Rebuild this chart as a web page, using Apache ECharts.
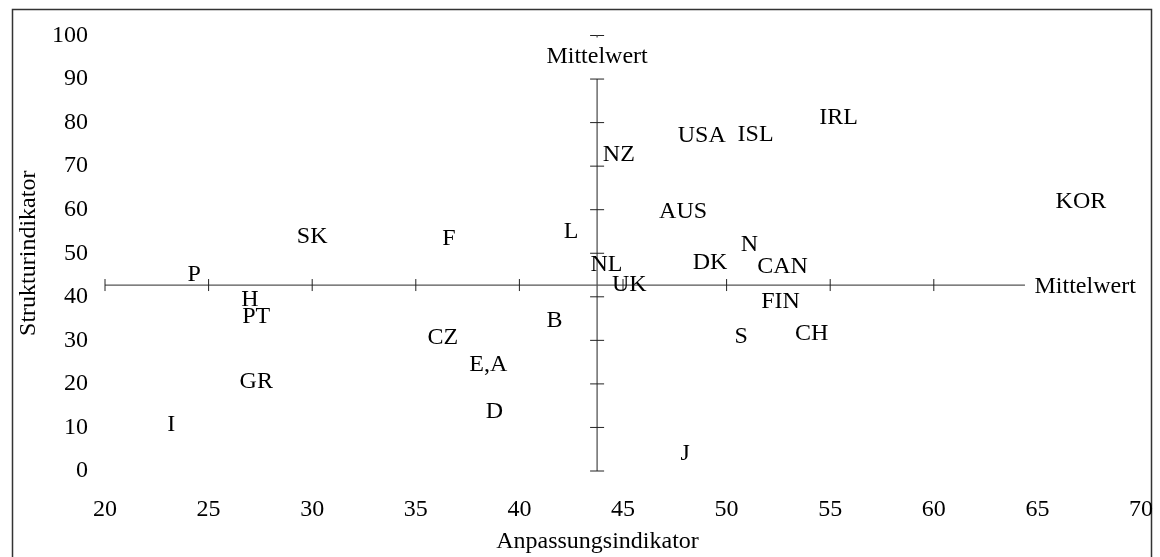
<!DOCTYPE html>
<html>
<head>
<meta charset="utf-8">
<script src="https://cdn.jsdelivr.net/npm/echarts@6/dist/echarts.min.js"></script>
<style>
html,body{margin:0;padding:0;background:#fff;}
#chart{width:1160px;height:557px;}
</style>
</head>
<body>
<div id="chart"></div>
<script>
// ---- data ----
const countries  = ['P','SK','F','L','NZ','USA','ISL','IRL','KOR','AUS','N','DK','CAN','NL','UK','FIN','CH','S','H','PT','GR','I','CZ','B','E,A','D','J'];
const adjustment = [24.3,30.0,36.6,42.5,44.8,48.8,51.4,55.4,67.1,47.9,51.1,49.2,52.7,44.2,45.3,52.6,54.1,50.7,27.0,27.3,27.3,23.2,36.3,41.7,38.5,38.8,48.0];
const structure  = [45.6,54.2,53.7,55.3,73.0,77.4,77.6,81.5,62.2,59.9,52.4,48.2,47.3,47.8,43.2,39.3,32.1,31.2,39.7,36.0,20.9,11.0,31.0,34.9,24.8,14.0,4.4];

const meanX = 43.75;          // Mittelwert Anpassungsindikator
const meanY = 42.7;           // Mittelwert Strukturindikator
const hLineStart = 20, hLineEnd = 64.4;
const vLineStart = 0,  vLineEnd = 90;
const hCrossTicks = [20,25,30,35,40,45,50,55,60];
const vCrossTicks = [0,10,20,30,40,50,60,70,80,90,100];
const meanLabel = 'Mittelwert';
const topLabelY = 95.5;
const rightLabelX = 64.86;

const xName = 'Anpassungsindikator';
const yName = 'Strukturindikator';

const FONT = 'Liberation Serif';
const FS = 24;
const TEXT_DY = 2;

const chart = echarts.init(document.getElementById('chart'), null, {renderer:'canvas'});

const lineStyle = {stroke:'#555', lineWidth:1.3};
const tickStyle = {stroke:'#222', lineWidth:1};

function renderCross(params, api){
  const ch = [];
  const a = api.coord([hLineStart, meanY]), b = api.coord([hLineEnd, meanY]);
  ch.push({type:'line', shape:{x1:a[0],y1:a[1],x2:b[0],y2:b[1]}, style:lineStyle});
  const c = api.coord([meanX, vLineStart]), d = api.coord([meanX, vLineEnd]);
  ch.push({type:'line', shape:{x1:c[0],y1:c[1],x2:d[0],y2:d[1]}, style:lineStyle});
  hCrossTicks.forEach(v=>{
    const p = api.coord([v, meanY]);
    ch.push({type:'line', shape:{x1:p[0],y1:p[1]-6,x2:p[0],y2:p[1]+6}, style:tickStyle});
  });
  vCrossTicks.forEach(v=>{
    const p = api.coord([meanX, v]);
    ch.push({type:'line', shape:{x1:p[0]-7,y1:p[1],x2:p[0]+7,y2:p[1]}, style:tickStyle});
  });
  const t = api.coord([meanX, 100]);
  ch.push({type:'line', shape:{x1:t[0],y1:t[1],x2:t[0],y2:t[1]+2}, style:lineStyle});
  const tl = api.coord([meanX, topLabelY]);
  ch.push({type:'text', style:{text:meanLabel, x:tl[0], y:tl[1]+TEXT_DY, align:'center', verticalAlign:'middle', font:FS+'px "'+FONT+'"', fill:'#000'}});
  const rl = api.coord([rightLabelX, meanY]);
  ch.push({type:'text', style:{text:meanLabel, x:rl[0], y:rl[1]+TEXT_DY, align:'left', verticalAlign:'middle', font:FS+'px "'+FONT+'"', fill:'#000'}});
  return {type:'group', children:ch};
}

const option = {
  backgroundColor:'#fff',
  animation:false,
  textStyle:{fontFamily:FONT},
  graphic:[{type:'rect', left:10, top:7, z:-10, shape:{x:0,y:0,width:1139,height:620}, style:{fill:'none', stroke:'#333', lineWidth:1.5}}],
  grid:{left:105, right:19, top:35.5, bottom:86, outerBoundsMode:'none', containLabel:false},
  xAxis:{
    type:'value', min:20, max:70, interval:5,
    axisLine:{show:false}, axisTick:{show:false}, splitLine:{show:false},
    axisLabel:{margin:27, fontFamily:FONT, fontSize:FS, color:'#000'},
    name:xName, nameLocation:'middle', nameGap:59,
    nameTextStyle:{fontFamily:FONT, fontSize:FS, color:'#000', padding:[0,51,0,0]}
  },
  yAxis:{
    type:'value', min:0, max:100, interval:10,
    axisLine:{show:false}, axisTick:{show:false}, splitLine:{show:false},
    axisLabel:{margin:17, fontFamily:FONT, fontSize:FS, color:'#000', padding:[4,0,0,0]},
    name:yName, nameLocation:'middle', nameGap:57,
    nameTextStyle:{fontFamily:FONT, fontSize:FS, color:'#000'}
  },
  series:[
    {type:'custom', renderItem:renderCross, data:[[meanX, meanY]], silent:true, z:1},
    {
      type:'scatter', z:2, symbolSize:1, itemStyle:{color:'rgba(0,0,0,0)', opacity:1},
      label:{show:true, position:'inside', offset:[0,TEXT_DY], formatter:'{b}', fontFamily:FONT, fontSize:FS, color:'#000', opacity:1},
      emphasis:{disabled:true},
      data: countries.map((c,i)=>({name:c, value:[adjustment[i], structure[i]]}))
    }
  ]
};
chart.setOption(option);
</script>
</body>
</html>
